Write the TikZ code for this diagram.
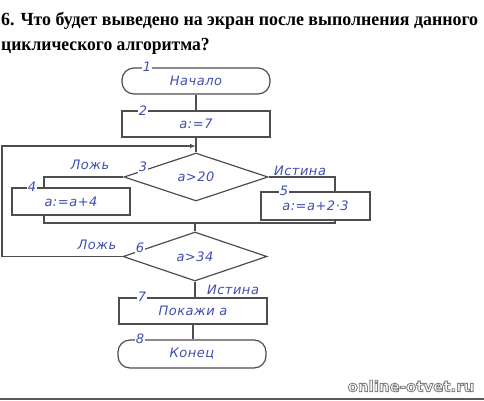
\documentclass[tikz,border=0pt]{standalone}
\usepackage{fontspec}
\setmainfont{Liberation Serif}
\newfontfamily\hand[LetterSpace=4]{DejaVu Sans}
\newfontfamily\wmfont{DejaVu Sans}
\usetikzlibrary{shapes.geometric,arrows.meta}
\definecolor{linegray}{HTML}{4E4E4E}
\definecolor{inkblue}{HTML}{3F4FB0}
\newcommand{\outlinedtext}[1]{{\color{white}\special{pdf:literal direct 2 Tr 0.5 G 0.9 w}#1\special{pdf:literal direct 0 Tr}}}
\begin{document}
\begin{tikzpicture}[x=1pt,y=-1pt,
  conn/.style={draw=linegray,line width=1.2pt},
  blockbox/.style={conn,rectangle,inner sep=0pt,minimum width=#1},
  termbox/.style={conn,rectangle,rounded corners=12pt,inner sep=0pt,minimum width=148pt},
  dia/.style={conn,diamond,aspect=3,inner sep=0pt,minimum width=144pt},
  txt/.style={text=inkblue,font=\hand\itshape\fontsize{13}{15}\selectfont},
  numlab/.style={txt,fill=white,inner sep=1.2pt},
  titlefont/.style={inner sep=0pt,anchor=base west,font=\bfseries\fontsize{18.5}{22}\selectfont},
  wmstyle/.style={font=\wmfont\bfseries\fontsize{15}{17}\selectfont}
]
\useasboundingbox (0,0) rectangle (484,400);
\fill[white] (0,0) rectangle (484,400);

% title
\node[titlefont] (title1) at (1,25) {\scalebox{0.966}[1]{6. Что будет выведено на экран после выполнения данного}};
\node[titlefont] (title2) at (1,50) {\scalebox{0.95}[1]{циклического алгоритма?}};

% blocks
\node[termbox,minimum height=26pt,txt] (t1) at (196,81) {Начало};
\node[blockbox=148pt,minimum height=26pt,txt] (b2) at (196,124) {a:=7};
\node[dia,minimum height=48pt,txt] (d3) at (196,177) {a>20};
\node[blockbox=118pt,minimum height=27pt,txt] (b4) at (71,201.5) {a:=a+4};
\node[blockbox=109pt,minimum height=28pt,txt] (b5) at (315.5,206) {a:=a+2·3};
\node[dia,minimum height=49pt,txt] (d6) at (195,256.5) {a>34};
\node[blockbox=148pt,minimum height=26pt,txt] (b7) at (193,311) {Покажи a};
\node[termbox,minimum height=28pt,txt] (t8) at (192,354) {Конец};

% helper coordinates
\coordinate (m1) at (196,146);
\coordinate (loopx) at (2,146);
\coordinate (fx) at (44,0);
\coordinate (tx) at (335,0);
\coordinate (my) at (0,223);

% connectors
\draw[conn] (t1.south) -- (b2.north);
\draw[conn] (b2.south) -- (d3.north);
\draw[conn] (d3.west) -| (fx |- b4.north);
\draw[conn] (d3.east) -| (tx |- b5.north);
\draw[conn] (fx |- b4.south) -- (fx |- my) -- (tx |- my) -- (tx |- b5.south);
\draw[conn] (d6.north |- my) -- (d6.north);
\draw[conn,-{Latex[length=6pt,width=4.5pt]}] (d6.west) -| (loopx) -- (m1);
\draw[conn] (d6.south) -- (d6.south |- b7.north);
\draw[conn] (b7.south) -- (b7.south |- t8.north);

% numbers
\node[numlab] (n1) at (147,67) {1};
\node[numlab] (n2) at (143,111) {2};
\node[numlab] (n3) at (143,167) {3};
\node[numlab] (n4) at (32,187) {4};
\node[numlab] (n5) at (284,191) {5};
\node[numlab] (n6) at (140,248) {6};
\node[numlab] (n7) at (142,297) {7};
\node[numlab] (n8) at (140,339) {8};

% branch labels
\node[txt] (f1) at (90,165) {Ложь};
\node[txt] (tr1) at (300,171) {Истина};
\node[txt] (f2) at (97,245) {Ложь};
\node[txt] (tr2) at (233,290) {Истина};

% watermark and bottom band
\node[wmstyle] (wm) at (411,386) {\outlinedtext{online-otvet.ru}};
\fill[gray!70!black] (0,397.5) rectangle (484,400);
\end{tikzpicture}
\end{document}
